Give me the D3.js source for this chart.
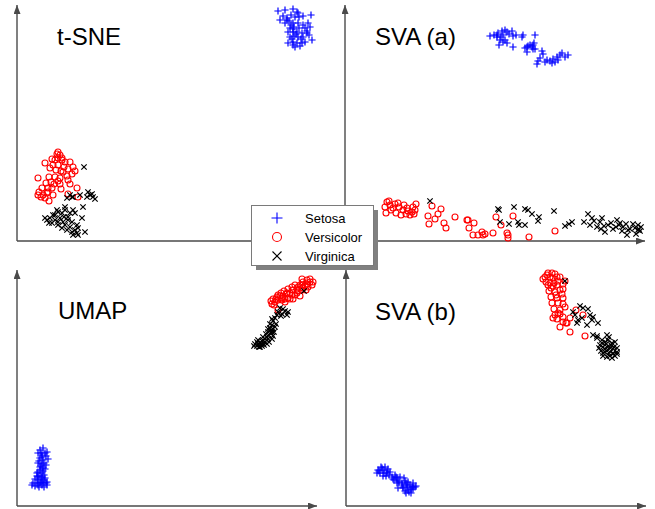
<!DOCTYPE html>
<html>
<head>
<meta charset="utf-8">
<script src="https://cdn.jsdelivr.net/npm/d3@7"></script>
<style>
  html, body { margin: 0; padding: 0; background: #ffffff; }
  svg { display: block; font-family: "Liberation Sans", Arial, Helvetica, sans-serif; }
</style>
</head>
<body>
<script>
// ---------- data (embedding coordinates, arbitrary units) ----------
const species = ["Setosa", "Versicolor", "Virginica"];
const panelTitles = ["t-SNE", "SVA (a)", "UMAP", "SVA (b)"];

const tsneSetosa = [[261,230],[268,231],[276,232],[280,229],[286,225],[294,226],[266,225],[270,223],[274,226],[278,224],[282,224],[263,221],[268,218],[272,220],[276,218],[281,218],[286,216],[291,218],[273,213],[277,214],[282,213],[288,213],[293,214],[271,209],[276,209],[280,209],[285,208],[290,208],[273,204],[277,205],[281,204],[286,204],[292,206],[271,198],[276,199],[280,198],[285,198],[295,201],[278,194],[283,195],[275,202],[270,221],[276,212],[279,207],[284,202],[274,216],[290,210],[281,228],[276,196],[288,199]];
const tsneVersicolor = [[41,89],[40,87],[43,86],[35,82],[38,81],[45,81],[48,79],[53,79],[28,78],[36,76],[41,76],[47,74],[51,72],[58,70],[39,71],[44,70],[55,67],[21,63],[32,64],[38,64],[43,63],[50,65],[29,58],[37,57],[43,57],[53,57],[25,53],[31,53],[35,53],[44,52],[60,53],[21,46],[26,46],[30,48],[24,44],[28,43],[32,40],[51,47],[61,44],[22,49],[46,69],[33,73],[41,60],[41,83],[45,83],[31,49],[56,74],[51,61],[36,46],[34,59]];
const tsneVirginica = [[67,74],[53,46],[50,43],[56,44],[71,49],[73,46],[76,44],[78,42],[70,44],[66,34],[40,31],[41,29],[36,26],[48,31],[53,28],[56,31],[58,28],[33,23],[30,21],[38,21],[43,23],[46,19],[51,21],[65,23],[35,18],[41,16],[48,16],[53,14],[45,13],[50,11],[55,9],[60,8],[68,9],[60,16],[61,13],[56,6],[38,26],[45,28],[51,24],[47,24],[55,19],[32,18],[41,19],[61,6],[58,11],[75,47],[55,44],[63,46],[48,34],[28,23]];

const svaASetosa = [[145,205],[149,206],[152,204],[153,208],[157,210],[158,206],[160,211],[162,209],[164,207],[167,210],[168,205],[171,206],[155,201],[158,199],[160,201],[162,198],[154,196],[168,194],[177,204],[178,206],[190,206],[189,198],[182,194],[180,193],[183,195],[185,196],[187,194],[188,196],[182,189],[190,192],[188,192],[197,190],[198,187],[195,183],[193,180],[192,177],[202,181],[205,180],[208,182],[207,178],[212,184],[215,186],[217,188],[220,184],[223,186],[213,181],[210,179],[200,179],[152,206],[156,204]];
const svaAVersicolor = [[42,39],[40,34],[41,28],[45,36],[46,31],[50,37],[53,38],[54,34],[51,28],[56,26],[58,31],[61,27],[63,30],[65,26],[68,34],[70,31],[69,27],[67,29],[87,35],[83,25],[84,17],[90,22],[93,27],[96,32],[99,18],[101,13],[110,24],[122,21],[123,21],[124,13],[129,18],[128,6],[133,6],[137,9],[138,6],[140,7],[148,8],[151,24],[156,16],[162,8],[163,6],[163,3],[168,25],[184,4],[210,10],[44,40],[48,33],[59,36],[62,33],[71,37]];
const svaAVirginica = [[85,40],[153,32],[154,31],[155,19],[169,34],[164,17],[173,19],[174,16],[180,16],[180,32],[183,31],[187,27],[194,24],[193,20],[209,30],[220,15],[224,17],[227,19],[239,19],[243,27],[245,16],[247,23],[252,14],[255,19],[257,23],[256,12],[260,9],[263,16],[266,18],[268,12],[272,21],[274,16],[275,18],[277,10],[278,14],[281,17],[282,6],[283,11],[288,17],[290,13],[291,7],[293,16],[294,12],[295,10],[293,11],[296,14],[285,12],[271,14],[259,15],[249,20]];

const umapSetosa = [[23,56],[26,58],[30,54],[21,53],[25,51],[29,50],[23,48],[26,46],[31,47],[21,43],[25,42],[29,41],[23,39],[26,38],[21,34],[25,33],[20,33],[23,30],[27,31],[21,29],[18,27],[21,26],[25,27],[28,28],[16,23],[20,23],[23,23],[26,23],[30,24],[18,20],[22,19],[27,19],[25,21],[24,53],[28,53],[25,49],[22,45],[27,43],[24,40],[28,37],[23,36],[26,35],[30,21],[15,21],[21,21],[24,24],[27,26],[20,30],[25,29],[29,23]];
const umapVersicolor = [[290,226],[293,224],[295,221],[286,224],[283,221],[288,220],[291,219],[280,217],[276,216],[281,215],[285,216],[273,213],[270,212],[275,211],[278,211],[266,210],[263,210],[260,209],[256,207],[255,202],[258,204],[261,206],[265,206],[268,207],[271,208],[257,201],[254,205],[281,219],[285,221],[290,222],[278,221],[275,219],[271,217],[267,215],[264,213],[261,211],[273,207],[293,227],[285,227],[296,224],[261,196],[270,213],[265,208],[280,213],[283,210],[259,207],[276,207],[286,218],[289,216],[268,204]];
const umapVirginica = [[287,215],[261,194],[265,192],[268,195],[270,191],[266,197],[260,191],[258,188],[256,185],[255,181],[253,178],[254,176],[255,174],[251,174],[252,171],[250,169],[248,167],[246,166],[245,165],[243,163],[241,162],[240,164],[238,162],[240,160],[242,159],[245,160],[247,161],[250,162],[252,164],[255,167],[256,170],[257,174],[258,179],[259,182],[251,177],[249,172],[246,169],[244,162],[241,166],[237,160],[253,182],[255,187],[263,198],[271,194],[264,190],[251,167],[243,159],[248,164],[254,173],[256,177]];

const svaBSetosa = [[32,36],[36,38],[39,39],[42,37],[34,33],[38,33],[41,33],[44,34],[37,30],[46,29],[49,31],[51,28],[52,25],[48,26],[54,29],[58,28],[56,23],[60,23],[62,24],[64,21],[67,19],[69,19],[57,19],[61,19],[65,17],[59,15],[63,14],[52,18],[67,23],[33,35],[37,36],[41,35],[43,31],[51,23],[56,21],[61,21],[66,19],[62,16],[67,17],[70,20],[31,33],[40,30],[47,27],[53,24],[59,25],[57,18],[65,13],[60,13],[35,39],[50,29]];
const svaBVersicolor = [[202,233],[206,233],[209,232],[199,229],[204,229],[207,228],[211,229],[200,224],[204,223],[208,223],[212,225],[202,221],[207,220],[211,221],[217,222],[219,225],[203,215],[209,214],[214,216],[217,217],[205,209],[211,208],[217,208],[206,203],[212,203],[217,202],[219,199],[208,197],[214,196],[209,191],[212,193],[214,192],[207,188],[211,187],[217,189],[224,188],[230,196],[237,191],[217,184],[220,183],[214,179],[224,174],[239,170],[201,231],[197,227],[214,229],[205,218],[210,211],[216,212],[221,183]];
const svaBVirginica = [[219,225],[234,200],[242,197],[237,198],[244,191],[229,191],[232,186],[231,183],[241,181],[246,186],[252,183],[247,171],[251,170],[261,171],[256,166],[259,164],[262,166],[266,163],[254,161],[257,159],[261,159],[264,158],[267,157],[271,154],[255,155],[259,154],[263,153],[267,152],[269,150],[257,150],[261,149],[266,148],[256,163],[253,158],[260,162],[265,161],[268,159],[271,158],[262,156],[257,153],[267,153],[264,150],[259,157],[271,152],[236,188],[227,194],[247,189],[251,168],[263,169],[269,164]];

const panelData = [
  [tsneSetosa, tsneVersicolor, tsneVirginica],
  [svaASetosa, svaAVersicolor, svaAVirginica],
  [umapSetosa, umapVersicolor, umapVirginica],
  [svaBSetosa, svaBVersicolor, svaBVirginica]
];
const xDomain = [0, 300];
const yDomain = [0, 236];

// ---------- layout & style ----------
const W = 655, H = 509;
const layout = [
  { ox: 17,  oy: 241, tx: 57,  ty: 45 },
  { ox: 345, oy: 241, tx: 375, ty: 45 },
  { ox: 17,  oy: 506, tx: 58,  ty: 319 },
  { ox: 346, oy: 506, tx: 375, ty: 320 }
];
const colors = ["#0000ff", "#ff0000", "#000000"];
const axisColor = "#4a4a4a";

const svg = d3.select("body").append("svg").attr("width", W).attr("height", H);
svg.append("rect").attr("width", W).attr("height", H).attr("fill", "#fff");

svg.append("defs").append("marker")
  .attr("id", "arrow")
  .attr("viewBox", "0 0 9 7")
  .attr("refX", 9).attr("refY", 3.5)
  .attr("markerWidth", 9).attr("markerHeight", 7)
  .attr("markerUnits", "userSpaceOnUse")
  .attr("orient", "auto")
  .append("path").attr("d", "M0,0L9,3.5L0,7Z").attr("fill", axisColor);

function markerPath(k, s) {
  if (k === 0) return `M${-s},0H${s}M0,${-s}V${s}`;
  if (k === 2) return `M${-s},${-s}L${s},${s}M${-s},${s}L${s},${-s}`;
  return null;
}

function drawMarker(g, k, x, y, big) {
  if (k === 1) {
    g.append("circle").attr("cx", x).attr("cy", y).attr("r", big ? 4.5 : 3)
      .attr("fill", "none").attr("stroke", colors[1]).attr("stroke-width", 1.1);
  } else {
    g.append("path").attr("transform", `translate(${x},${y})`)
      .attr("d", markerPath(k, k === 0 ? (big ? 5.5 : 3.6) : (big ? 4.5 : 2.7)))
      .attr("fill", "none").attr("stroke", colors[k]).attr("stroke-width", big ? 1.1 : 1.2);
  }
}

layout.forEach((L, i) => {
  const x = d3.scaleLinear().domain(xDomain).range([L.ox, L.ox + 300]);
  const y = d3.scaleLinear().domain(yDomain).range([L.oy, L.oy - 236]);
  const g = svg.append("g");

  // axes: L-shaped with arrowheads
  g.append("line")
    .attr("x1", x(xDomain[0])).attr("y1", y(yDomain[0]))
    .attr("x2", x(xDomain[0])).attr("y2", y(yDomain[1]))
    .attr("stroke", axisColor).attr("stroke-width", 1.4)
    .attr("marker-end", "url(#arrow)");
  g.append("line")
    .attr("x1", x(xDomain[0])).attr("y1", y(yDomain[0]))
    .attr("x2", x(xDomain[1])).attr("y2", y(yDomain[0]))
    .attr("stroke", axisColor).attr("stroke-width", 1.4)
    .attr("marker-end", "url(#arrow)");

  g.append("text").attr("x", L.tx).attr("y", L.ty)
    .attr("font-size", 24).attr("fill", "#000").text(panelTitles[i]);

  panelData[i].forEach((pts, k) => {
    const mg = g.append("g");
    pts.forEach(p => drawMarker(mg, k, x(p[0]), y(p[1]), false));
  });
});

// ---------- legend ----------
const lg = svg.append("g");
const lx = 251, ly = 205, lw = 122, lh = 60;
lg.append("rect").attr("x", lx + 5).attr("y", ly + 5).attr("width", lw).attr("height", lh).attr("fill", "#808080");
lg.append("rect").attr("x", lx + 0.5).attr("y", ly + 0.5).attr("width", lw).attr("height", lh)
  .attr("fill", "#fff").attr("stroke", "#7a7a7a").attr("stroke-width", 1);
species.forEach((s, k) => {
  const cy = ly + 13 + k * 19;
  drawMarker(lg, k, lx + 26, cy, true);
  lg.append("text").attr("x", lx + 54).attr("y", cy + 4.5)
    .attr("font-size", 13).attr("fill", "#000").text(s);
});
</script>
</body>
</html>
